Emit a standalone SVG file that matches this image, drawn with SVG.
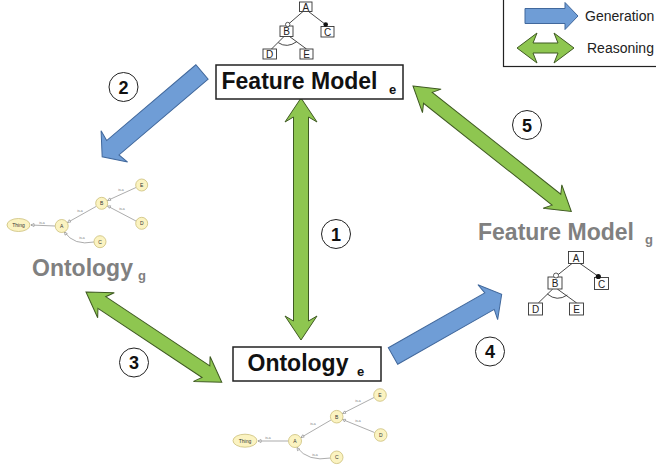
<svg xmlns="http://www.w3.org/2000/svg" width="656" height="469" viewBox="0 0 656 469">
<defs>
<style>
.bx{fill:#fff;stroke:#222;stroke-width:1.5}
.ft{fill:#fff;stroke:#333;stroke-width:0.9}
.fl{stroke:#333;stroke-width:0.9;fill:none}
.fx{font-family:"Liberation Sans",Arial,sans-serif;font-size:10px;fill:#222;text-anchor:middle}
.big{font-family:"Liberation Sans",Arial,sans-serif;font-size:23px;font-weight:bold}
.sub{font-family:"Liberation Sans",Arial,sans-serif;font-size:13px;font-weight:bold}
.gry{fill:#808080}
.blu{fill:#6f9dd6;stroke:#41689c;stroke-width:1}
.grn{fill:#8ec650;stroke:#3f5a22;stroke-width:1}
.num{fill:#fff;stroke:#222;stroke-width:1}
.nt{font-family:"Liberation Sans",Arial,sans-serif;font-size:18px;font-weight:bold;fill:#111;text-anchor:middle}
.lg{font-family:"Liberation Sans",Arial,sans-serif;font-size:14px;fill:#222}
.on{fill:#fbf3c1;stroke:#cbbf7a;stroke-width:0.8}
.oe{stroke:#888;stroke-width:0.7;fill:none}
.ot{font-family:"Liberation Sans",Arial,sans-serif;font-size:5px;fill:#333;text-anchor:middle}
.ol{font-family:"Liberation Sans",Arial,sans-serif;font-size:3.5px;fill:#777;text-anchor:middle}
</style>
</defs>
<rect width="656" height="469" fill="#fff"/>

<!-- Legend -->
<g id="legend">
<rect x="503.5" y="-2" width="160" height="68.5" fill="#fff" stroke="#222" stroke-width="1.2"/>
<path class="blu" d="M525,8.5 L565,8.5 L565,2.5 L578,16 L565,29.5 L565,23.5 L525,23.5 Z"/>
<text class="lg" x="585" y="21">Generation</text>
<path class="grn" d="M517,48 L537,33 L533,43 L558,43 L554,33 L574,48 L554,63 L558,53 L533,53 L537,63 Z"/>
<text class="lg" x="587" y="53">Reasoning</text>
</g>

<!-- Connectors -->
<g id="connectors">
<g transform="translate(202,72) rotate(139.65)"><path class="blu" d="M0,-9.5 L117,-9.5 L115,-20.5 L131,0 L115,20.5 L117,9.5 L0,9.5 Z"/></g>
<g transform="translate(393,356) rotate(-29.6)"><path class="blu" d="M0,-9.5 L111,-9.5 L109,-20 L125,0 L109,20 L111,9.5 L0,9.5 Z"/></g>
<g transform="translate(301,98) rotate(90)"><path class="grn" d="M0,0 L24,-16 L19,-7.5 L223,-7.5 L218,-16 L242,0 L218,16 L223,7.5 L19,7.5 L24,16 Z"/></g>
<g transform="translate(413,86) rotate(38.4)"><path class="grn" d="M0,0 L24,-15 L19,-7 L183,-7 L178,-15 L202,0 L178,15 L183,7 L19,7 L24,15 Z"/></g>
<g transform="translate(86,292) rotate(33.6)"><path class="grn" d="M0,0 L24,-15 L19,-7 L144,-7 L139,-15 L163,0 L139,15 L144,7 L19,7 L24,15 Z"/></g>
</g>

<!-- Number circles -->
<g id="n1"><circle class="num" cx="336" cy="234" r="14.5"/><text class="nt" x="336" y="240.5">1</text></g>
<g id="n2"><circle class="num" cx="123.5" cy="87" r="14.5"/><text class="nt" x="123.5" y="93.5">2</text></g>
<g id="n3"><circle class="num" cx="134" cy="362.5" r="14.5"/><text class="nt" x="134" y="369">3</text></g>
<g id="n4"><circle class="num" cx="490" cy="351.5" r="14.5"/><text class="nt" x="490" y="358">4</text></g>
<g id="n5"><circle class="num" cx="527" cy="125" r="14.5"/><text class="nt" x="527" y="131.5">5</text></g>

<!-- Feature Model e -->
<g id="fm-e">
<rect class="bx" x="216" y="65" width="187" height="34"/>
<text class="big" x="221.5" y="89" fill="#111">Feature Model</text>
<text class="sub" x="389" y="94" fill="#111">e</text>
<g id="tree-e">
<line class="fl" x1="303" y1="11.5" x2="288" y2="24.5"/>
<line class="fl" x1="308.5" y1="11.5" x2="325.5" y2="24.5"/>
<line class="fl" x1="284" y1="36.5" x2="271.5" y2="49"/>
<line class="fl" x1="289.5" y1="36.5" x2="306.5" y2="49"/>
<path class="fl" d="M278.3,42.7 Q287,48.5 296.7,41.7"/>
<rect class="ft" x="299.5" y="2" width="12.5" height="9.5"/>
<rect class="ft" x="280" y="26" width="13" height="10.5"/>
<rect class="ft" x="321" y="26.5" width="13" height="10.5"/>
<rect class="ft" x="263" y="49" width="13.5" height="10"/>
<rect class="ft" x="300" y="49" width="13" height="10"/>
<circle cx="287.7" cy="24.5" r="2.2" fill="#fff" stroke="#333" stroke-width="0.8"/>
<circle cx="325.7" cy="24.5" r="2.3" fill="#111"/>
<text class="fx" x="305.8" y="10.5">A</text>
<text class="fx" x="286.5" y="35">B</text>
<text class="fx" x="327.5" y="35.5">C</text>
<text class="fx" x="269.7" y="58">D</text>
<text class="fx" x="306.5" y="58">E</text>
</g>
</g>

<!-- Feature Model g -->
<g id="fm-g">
<text class="big gry" x="478" y="240">Feature Model</text>
<text class="sub gry" x="645" y="244">g</text>
<line class="fl" x1="572" y1="263.5" x2="557" y2="275.5"/>
<line class="fl" x1="580" y1="263.5" x2="598.5" y2="276.5"/>
<line class="fl" x1="552.7" y1="289" x2="538.3" y2="303"/>
<line class="fl" x1="557.3" y1="289" x2="576.7" y2="303"/>
<path class="fl" d="M547.3,294 Q557,302 567.3,295"/>
<rect class="ft" x="568.5" y="251.5" width="15" height="12"/>
<rect class="ft" x="548" y="277" width="14" height="12"/>
<rect class="ft" x="594.5" y="277.5" width="14" height="12"/>
<rect class="ft" x="528.5" y="303" width="14" height="12"/>
<rect class="ft" x="569.5" y="303" width="14" height="12"/>
<circle cx="556" cy="275.5" r="2.5" fill="#fff" stroke="#333" stroke-width="0.8"/>
<circle cx="598.3" cy="276.5" r="2.6" fill="#111"/>
<text class="fx" x="576" y="261.5" font-size="11">A</text>
<text class="fx" x="555" y="287" font-size="11">B</text>
<text class="fx" x="601.5" y="287.5" font-size="11">C</text>
<text class="fx" x="535.5" y="313" font-size="11">D</text>
<text class="fx" x="576.5" y="313" font-size="11">E</text>
</g>

<!-- Ontology g -->
<g id="onto-g">
<line class="oe" x1="55" y1="226" x2="31" y2="225" stroke="#444"/>
<path d="M31,225 l3,-1.5 l0,3 z" fill="#fff" stroke="#666" stroke-width="0.5"/>
<text class="ol" x="42" y="223.5">is-a</text>
<line class="oe" x1="96" y1="206.5" x2="67.5" y2="222.5"/>
<path d="M67.5,222.5 l1.8,-2.8 l1.4,2.4 z" fill="#fff" stroke="#666" stroke-width="0.5"/>
<text class="ol" x="80" y="212">is-a</text>
<line class="oe" x1="136" y1="187.5" x2="107.5" y2="200.5"/>
<path d="M107.5,200.5 l2.2,-2.6 l1.1,2.5 z" fill="#fff" stroke="#666" stroke-width="0.5"/>
<text class="ol" x="121" y="191">is-a</text>
<line class="oe" x1="136" y1="221" x2="107.5" y2="206"/>
<path d="M107.5,206 l3.2,-0.2 l-1.3,2.5 z" fill="#fff" stroke="#666" stroke-width="0.5"/>
<text class="ol" x="122" y="210">is-a</text>
<path class="oe" d="M94,242 Q74,246 64.5,232"/>
<path d="M64.5,232 l2.8,1.6 l-2.3,1.6 z" fill="#fff" stroke="#666" stroke-width="0.5"/>
<text class="ol" x="82" y="239">is-a</text>
<ellipse class="on" cx="18.5" cy="225" rx="11.5" ry="6.5"/>
<circle class="on" cx="61.7" cy="226" r="6.5"/>
<circle class="on" cx="101.7" cy="203.3" r="6"/>
<circle class="on" cx="141.7" cy="185" r="6"/>
<circle class="on" cx="141.7" cy="223.3" r="6"/>
<circle class="on" cx="100" cy="241.7" r="6"/>
<text class="ot" x="18.5" y="226.8">Thing</text>
<text class="ot" x="61.7" y="227.8">A</text>
<text class="ot" x="101.7" y="205.1">B</text>
<text class="ot" x="141.7" y="186.8">E</text>
<text class="ot" x="141.7" y="225.1">D</text>
<text class="ot" x="100" y="243.5">C</text>
<text class="big gry" x="32" y="276">Ontology</text>
<text class="sub gry" x="138" y="280">g</text>
</g>

<!-- Ontology e -->
<g id="onto-e">
<rect class="bx" x="233" y="347" width="148" height="34"/>
<text class="big" x="247.5" y="371" fill="#111">Ontology</text>
<text class="sub" x="357" y="376" fill="#111">e</text>
<line class="oe" x1="288" y1="441" x2="258" y2="441"/>
<path d="M258,441 l3,-1.5 l0,3 z" fill="#fff" stroke="#666" stroke-width="0.5"/>
<text class="ol" x="268" y="439">is-a</text>
<line class="oe" x1="331" y1="420" x2="301" y2="437.5"/>
<path d="M301,437.5 l1.8,-2.8 l1.4,2.4 z" fill="#fff" stroke="#666" stroke-width="0.5"/>
<text class="ol" x="313" y="424.5">is-a</text>
<line class="oe" x1="374" y1="397.5" x2="342.5" y2="413.5"/>
<path d="M342.5,413.5 l2.2,-2.6 l1.1,2.5 z" fill="#fff" stroke="#666" stroke-width="0.5"/>
<text class="ol" x="358" y="402">is-a</text>
<line class="oe" x1="374.5" y1="432.5" x2="342.5" y2="419.5"/>
<path d="M342.5,419.5 l3.2,-0.2 l-1.3,2.5 z" fill="#fff" stroke="#666" stroke-width="0.5"/>
<text class="ol" x="358" y="422">is-a</text>
<path class="oe" d="M330.5,458 Q308,462 297,447.5"/>
<path d="M297,447.5 l2.8,1.6 l-2.3,1.6 z" fill="#fff" stroke="#666" stroke-width="0.5"/>
<text class="ol" x="315" y="456">is-a</text>
<ellipse class="on" cx="245" cy="440.7" rx="12" ry="6.5"/>
<circle class="on" cx="295" cy="441" r="6.5"/>
<circle class="on" cx="336.7" cy="416.7" r="6.3"/>
<circle class="on" cx="380" cy="395" r="6.3"/>
<circle class="on" cx="380.7" cy="435" r="6.3"/>
<circle class="on" cx="336.7" cy="457.3" r="6.3"/>
<text class="ot" x="245" y="442.5">Thing</text>
<text class="ot" x="295" y="442.8">A</text>
<text class="ot" x="336.7" y="418.5">B</text>
<text class="ot" x="380" y="396.8">E</text>
<text class="ot" x="380.7" y="436.8">D</text>
<text class="ot" x="336.7" y="459.1">C</text>
</g>
</svg>
